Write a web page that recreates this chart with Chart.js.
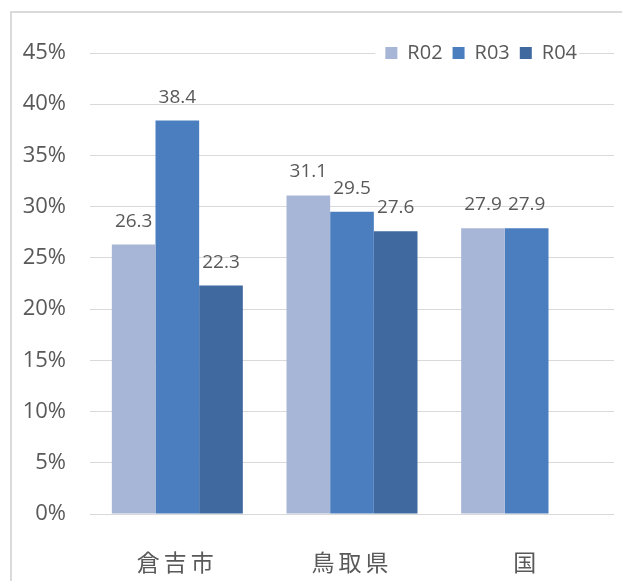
<!DOCTYPE html>
<html lang="ja">
<head>
<meta charset="utf-8">
<title>R02-R04</title>
<script src="https://cdn.jsdelivr.net/npm/chart.js@4.4.1/dist/chart.umd.min.js"></script>
<style>
  html, body { margin: 0; padding: 0; background: #fff; overflow: hidden; }
  #wrap { position: relative; width: 622px; height: 581px; }
  #frame {
    position: absolute; left: 10px; top: 11px; width: 700px; height: 700px;
    border: 2px solid #dadada; box-sizing: border-box;
  }
  #chart { position: absolute; left: 0; top: 0; }
</style>
</head>
<body>
<div id="wrap">
  <div id="frame"></div>
  <canvas id="chart" width="622" height="581"></canvas>
</div>
<script>
const categories = ["倉吉市", "鳥取県", "国"];
const seriesNames = ["R02", "R03", "R04"];
const r02Values = [26.3, 31.1, 27.9];
const r03Values = [38.4, 29.5, 27.9];
const r04Values = [22.3, 27.6, null];
const yMax = 45;
const yStep = 5;

const seriesColors = ["#a7b6d6", "#4a7ebf", "#3f699f"];
const textColor = "#595959";
const numFont = "'Open Sans', 'Liberation Sans', sans-serif";
const cjkFont = "'Noto Sans CJK JP', sans-serif";

// value labels sitting above each bar
const barValueLabels = {
  id: "barValueLabels",
  afterDatasetsDraw(chart) {
    const ctx = chart.ctx;
    ctx.save();
    ctx.font = "19px " + numFont;
    ctx.fillStyle = textColor;
    ctx.textAlign = "center";
    ctx.textBaseline = "alphabetic";
    chart.data.datasets.forEach((ds, i) => {
      const meta = chart.getDatasetMeta(i);
      meta.data.forEach((bar, j) => {
        const v = ds.data[j];
        if (v == null) return;
        ctx.fillText(v.toFixed(1), bar.x, bar.y - 18);
      });
    });
    ctx.restore();
  },
};

// legend takes no room of its own: it floats on the top gridline
// with a white gap behind it. category labels get some letter spacing
const layoutTweaks = {
  id: "layoutTweaks",
  beforeLayout(chart) {
    const lg = chart.legend;
    if (lg && !lg._flat) {
      const baseFit = lg.fit.bind(lg);
      lg.fit = function () {
        baseFit();
        this._realHeight = this.height;
        this.height = 0;
      };
      lg._flat = true;
    }
  },
  afterLayout(chart) {
    const lg = chart.legend;
    const area = chart.chartArea;
    const pad = lg.options.labels.padding;
    const fontSize = lg.options.labels.font.size;
    lg.right = 587;
    lg.top = area.top - pad - fontSize / 2;
    lg.height = lg._realHeight;
    lg.bottom = lg.top + lg._realHeight;

    if (!lg._gapWrapped) {
      const baseDraw = lg.draw.bind(lg);
      lg.draw = function (a) {
        const c = chart.ctx;
        const w = this.lineWidths ? this.lineWidths[0] : 0;
        const start = this.right - w;
        c.save();
        c.fillStyle = "#ffffff";
        c.fillRect(start - 10, chart.chartArea.top - 3, w + 2, 6);
        c.restore();
        baseDraw(a);
      };
      lg._gapWrapped = true;
    }

    const xs = chart.scales.x;
    if (!xs._spaced) {
      const baseLabels = xs.drawLabels.bind(xs);
      xs.drawLabels = function (a) {
        const c = chart.ctx;
        c.save();
        c.letterSpacing = "4px";
        baseLabels(a);
        c.restore();
      };
      xs._spaced = true;
    }
  },
};

function main() {
  const ctx = document.getElementById("chart").getContext("2d");
  const valueSets = [r02Values, r03Values, r04Values];

  new Chart(ctx, {
    type: "bar",
    data: {
      labels: categories,
      datasets: seriesNames.map((name, i) => ({
        label: name,
        data: valueSets[i],
        backgroundColor: seriesColors[i],
        borderWidth: 0,
        categoryPercentage: 0.75,
        barPercentage: 1.0,
      })),
    },
    options: {
      responsive: false,
      animation: false,
      devicePixelRatio: 1,
      layout: { padding: { left: 0, right: 8, top: 53, bottom: 0 } },
      plugins: {
        tooltip: { enabled: false },
        legend: {
          display: true,
          position: "top",
          align: "end",
          labels: {
            boxWidth: 12,
            boxHeight: 12,
            padding: 10,
            color: textColor,
            font: { size: 20, family: numFont },
          },
        },
      },
      scales: {
        x: {
          grid: { display: false },
          border: { display: false },
          ticks: {
            color: textColor,
            padding: 26,
            font: { size: 23, family: cjkFont },
          },
          afterFit(scale) {
            scale.height = 67;
          },
        },
        y: {
          min: 0,
          max: yMax,
          grid: { color: "#d9d9d9", lineWidth: 1, drawTicks: false },
          border: { display: false },
          ticks: {
            stepSize: yStep,
            color: textColor,
            padding: 24,
            font: { size: 22, family: numFont },
            callback: (v) => v + "%",
          },
          afterFit(scale) {
            scale.width = 90;
          },
        },
      },
    },
    plugins: [barValueLabels, layoutTweaks],
  });
}

document.addEventListener("DOMContentLoaded", main);
</script>
</body>
</html>
